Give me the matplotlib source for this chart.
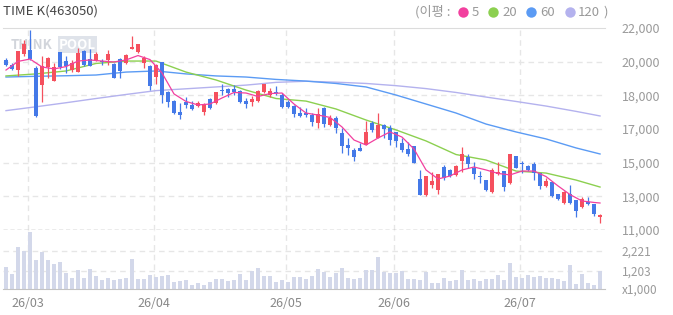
import numpy as np
import matplotlib
matplotlib.use('Agg')
import matplotlib.pyplot as plt
from matplotlib.lines import Line2D

plt.rcParams['font.family'] = ['Noto Sans CJK KR', 'DejaVu Sans']

# data (prices in won, volume in thousands of shares)
title = 'TIME K(463050)'

opens = [20260, 19990, 19710, 20580, 20800, 19820, 18900, 19880, 19110, 20690,
         20200, 19710, 19600, 20750, 20310, 20260, 20200, 20260, 20040, 20310,
         20090, 20860, 20690, 20090, 19930, 19330, 20150, 18510, 18020, 17430,
         17970, 17810, 17750, 17430, 18130, 17920, 18620, 18680, 18680, 18570,
         18020, 17970, 18020, 18520, 18350, 18520, 18350, 17970, 17750, 17370,
         17370, 17260, 16830, 17640, 16720, 17100, 16280, 15630, 15360, 15470,
         15630, 16830, 16010, 16720, 16550, 16340, 15740, 15410, 15570, 13780,
         12910, 13450, 13180, 14430, 14270, 14000, 14760, 14980, 14380, 13940,
         13720, 13070, 14050, 14210, 13560, 15030, 14650, 14490, 14590, 14100,
         13400, 13610, 12960, 12470, 12960, 12630, 12250, 12530, 12420, 11710]
highs = [20370, 20090, 20750, 21350, 21890, 19930, 20480, 20420, 20090, 20690,
         20480, 20260, 20910, 20800, 20860, 20690, 20310, 20800, 20090, 20370,
         20580, 21560, 21130, 20480, 19990, 20040, 20150, 18570, 18080, 17920,
         18240, 18020, 18020, 17920, 18190, 18520, 18950, 18730, 18900, 18620,
         18190, 18300, 18620, 18950, 18730, 18840, 18460, 18080, 17810, 17700,
         17640, 17370, 17640, 17700, 17260, 17210, 16550, 16010, 15470, 15740,
         16940, 16940, 17370, 16770, 16720, 16340, 16010, 15790, 15570, 14270,
         13940, 14160, 14050, 14540, 14320, 14540, 15520, 15140, 14700, 14210,
         13720, 14380, 14700, 14210, 15140, 15030, 14760, 14540, 14700, 14100,
         13830, 13610, 12960, 13120, 13450, 12630, 12800, 12800, 12420, 11870]
lows = [19930, 19710, 19390, 20480, 20260, 17150, 17970, 19280, 19110, 19770,
        19550, 19600, 19600, 19930, 19930, 20200, 19990, 19990, 19280, 19280,
        20040, 20860, 20640, 19820, 18620, 18950, 17920, 17700, 17320, 17040,
        17640, 17530, 17700, 17260, 17590, 17860, 18350, 18240, 18350, 17920,
        17640, 17750, 17970, 18460, 18240, 18350, 17640, 17640, 17150, 17150,
        17150, 16660, 16550, 16610, 16660, 16280, 15190, 15080, 14760, 15300,
        15630, 16340, 16010, 16010, 15630, 15520, 15250, 15030, 14650, 12910,
        12850, 13290, 12960, 13720, 13890, 13940, 14160, 14380, 13780, 13560,
        13120, 13020, 14000, 13120, 13510, 14380, 14100, 14210, 13720, 13230,
        13340, 12800, 12630, 12420, 12420, 11710, 12200, 12360, 11760, 11380]
closes = [19990, 19770, 20750, 21130, 20310, 17210, 19930, 20370, 19880, 19880,
          19930, 20090, 20640, 19990, 19930, 20580, 20150, 20580, 19280, 19660,
          20530, 20970, 21130, 20370, 18840, 19990, 18350, 17970, 17370, 17260,
          17810, 17590, 17920, 17810, 17640, 18520, 18570, 18460, 18520, 17970,
          17860, 18130, 18570, 18950, 18570, 18460, 17700, 17700, 17320, 17210,
          17260, 16880, 17320, 16770, 17100, 16550, 15570, 15470, 14980, 15300,
          16340, 16450, 16720, 16500, 15900, 15850, 15360, 15140, 14650, 12910,
          13940, 13670, 14050, 13830, 13940, 14490, 15140, 14590, 14050, 13890,
          13180, 14270, 14160, 13340, 15140, 14380, 14590, 14270, 14100, 13400,
          13670, 12850, 12690, 13070, 12470, 12040, 12690, 12420, 11870, 11820]
volume = [1422, 1050, 2425, 2221, 3204, 1763, 2186, 1763, 1560, 1661,
          1117, 862, 1254, 862, 1320, 949, 745, 862, 760, 811,
          862, 1814, 811, 811, 1000, 913, 949, 1000, 643, 709,
          745, 491, 592, 491, 643, 796, 796, 709, 745, 1050,
          745, 1203, 1356, 949, 949, 643, 745, 643, 898, 898,
          796, 949, 1305, 1152, 898, 1101, 1371, 862, 796, 832,
          1254, 1254, 1916, 1152, 1101, 1101, 1203, 796, 796, 745,
          1152, 592, 592, 847, 694, 745, 1254, 745, 796, 694,
          796, 796, 1000, 745, 1610, 898, 847, 1000, 898, 949,
          847, 847, 796, 694, 1509, 542, 1050, 592, 491, 1203]

# moving averages as drawn (ma5 every 2nd session, others every 5th)
ma5_idx = list(range(0, 100, 2)) + [99]
ma5 = [19710, 20180, 20310, 19880, 19770, 19900, 20200, 20260, 20200, 20150,
       20260, 20500, 20280, 19550, 18410, 18000, 17810, 17860, 18190, 18490,
       18460, 18270, 18430, 18460, 17860, 17370, 17260, 17130, 16610, 15900,
       15630, 16010, 16340, 16060, 15410, 14270, 13780, 13940, 14270, 14430,
       14270, 14080, 14000, 14210, 14210, 13910, 13400, 12930, 12580, 12500,
       12470]
ma_idx = list(range(0, 100, 5)) + [99]
ma20 = [19390, 19500, 19660, 20070, 20200, 20200, 19600, 19170, 18620, 18160,
        18020, 17590, 16990, 16450, 15850, 15110, 14810, 14210, 14100, 13720,
        13340]
ma60 = [19330, 19370, 19400, 19440, 19600, 19660, 19500, 19390, 19330, 19200,
        19110, 18980, 18790, 18350, 17860, 17370, 16770, 16340, 15960, 15470,
        15140]
ma120 = [17500, 17710, 17930, 18160, 18380, 18590, 18690, 18790, 18890, 19040,
         19100, 19050, 18980, 18860, 18700, 18490, 18240, 18000, 17750, 17460,
         17210]

month_start = [4, 25, 47, 65, 86]
month_labels = ['26/03', '26/04', '26/05', '26/06', '26/07']
price_labels = ['11,000', '13,000', '15,000', '17,000', '18,000', '20,000', '22,000']
vol_ticks = [1203, 2221]
ma_names = ['5', '20', '60', '120']

UP, DOWN = '#f5505e', '#4479e8'
ma_colors = ['#f2409f', '#8cd050', '#5b9bf4', '#b4b2ee']
GRID = '#e6e6e6'
TXT = '#9a9a9a'

W, H = 673, 315
fig = plt.figure(figsize=(W / 100, H / 100), dpi=100)


def box(l, t, r, b):
    return [l / W, 1 - b / H, (r - l) / W, (b - t) / H]


ax = fig.add_axes(box(3, 28, 605, 230))
axv = fig.add_axes(box(3, 230, 605, 289))

x = np.arange(len(opens))
o, hi, lo, c = (np.array(a, dtype=float) for a in (opens, highs, lows, closes))
col = np.where(c >= o, UP, DOWN)

# price panel
ax.vlines(x, lo, hi, colors=col, lw=0.9, zorder=3)
ax.bar(x, np.maximum(np.abs(c - o), 70), bottom=np.minimum(o, c), width=0.8,
       color=col, linewidth=0, zorder=4)
ax.plot(ma_idx, ma120, color=ma_colors[3], lw=1.0, zorder=2)
ax.plot(ma_idx, ma60, color=ma_colors[2], lw=1.0, zorder=2)
ax.plot(ma_idx, ma20, color=ma_colors[1], lw=1.0, zorder=2)
ax.plot(ma5_idx, ma5, color=ma_colors[0], lw=0.9, zorder=5)

yt = np.linspace(11000, 22000, 7)
ax.set_ylim(11000, 22000)
ax.set_xlim(-0.5, 99.83)
ax.yaxis.tick_right()
ax.set_yticks(yt, price_labels)
ax.set_xticks([])
ax.tick_params(axis='y', length=0, pad=12, labelsize=9, labelcolor=TXT)
for v in yt[1:-1]:
    ax.axhline(v, color=GRID, lw=1, ls=(0, (4, 3)), zorder=0)
ax.axhline(11000, color='#9a9a9a', lw=1, ls=(0, (3, 2)), zorder=6, clip_on=False)
for s in ax.spines.values():
    s.set_visible(False)
ax.spines['top'].set_visible(True)
ax.spines['top'].set_color('#dcdcdc')

ax.text(0.012, 0.918, 'THINK', transform=ax.transAxes, fontsize=9.5,
        fontweight='bold', color='#d2d5db', va='center', zorder=1)
ax.text(0.093, 0.918, 'POOL', transform=ax.transAxes, fontsize=9.5,
        fontweight='bold', color='white', va='center', zorder=1,
        bbox=dict(boxstyle='square,pad=0.1', fc='#dfe3ea', ec='none'))

# volume panel
axv.bar(x, volume, width=0.72, color='#d3d8ea', linewidth=0, zorder=2)
axv.set_ylim(287, 3290)
axv.set_xlim(-0.5, 99.83)
axv.yaxis.tick_right()
axv.set_yticks([287] + vol_ticks, ['x1,000', '1,203', '2,221'])
axv.tick_params(axis='y', length=0, pad=12, labelsize=8.5, labelcolor=TXT)
for v in vol_ticks:
    axv.axhline(v, color=GRID, lw=1, ls=(0, (4, 3)), zorder=0)
for s in axv.spines.values():
    s.set_visible(False)
axv.spines['bottom'].set_visible(True)
axv.spines['bottom'].set_color('#c4c4c4')

gx = np.array(month_start) - 0.35
axv.set_xticks(gx, month_labels)
axv.tick_params(axis='x', length=0, pad=6, labelsize=9, labelcolor='#888888')
for g in gx:
    ax.axvline(g, color=GRID, lw=1, ls=(0, (4, 3)), zorder=0)
    axv.axvline(g, color=GRID, lw=1, ls=(0, (4, 3)), zorder=0)

# header
fig.text(3 / W, 1 - 11.5 / H, title, fontsize=9.5, color='#444444', va='center')
fig.text(415 / W, 1 - 12 / H, '(이평 :', fontsize=9.5, color=TXT, va='center')
dot_x = [463, 493, 531, 570]
lab_x = [472, 502, 540, 578]
for name, cc, dx, lx in zip(ma_names, ma_colors, dot_x, lab_x):
    fig.add_artist(Line2D([dx / W], [1 - 12 / H], marker='o', ms=7.5, color=cc,
                          mec='none', transform=fig.transFigure))
    fig.text(lx / W, 1 - 12 / H, name, fontsize=9.5, color=TXT, va='center')
fig.text(603 / W, 1 - 12 / H, ')', fontsize=9.5, color=TXT, va='center')

fig.savefig('out.png', dpi=100, facecolor='white')
